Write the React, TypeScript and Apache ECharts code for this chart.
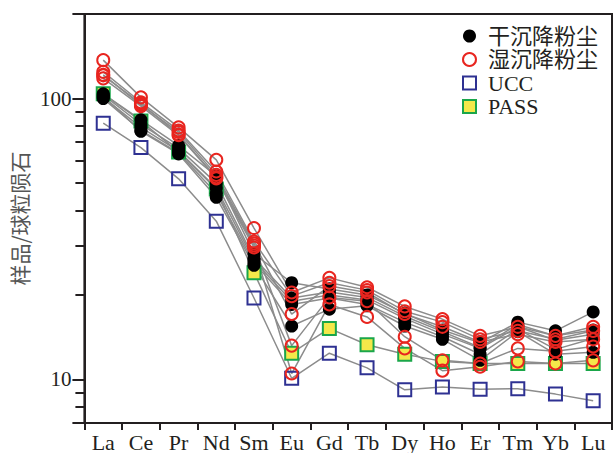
import React, { useEffect, useRef } from "react";
import * as echarts from "echarts";

const categories = ["La", "Ce", "Pr", "Nd", "Sm", "Eu", "Gd", "Tb", "Dy", "Ho", "Er", "Tm", "Yb", "Lu"];

const ucc = [81.7, 66.9, 51.8, 36.6, 19.5, 10.1, 12.4, 11.0, 9.19, 9.4, 9.24, 9.27, 8.87, 8.4];
const pass = [104, 83.2, 64.5, 47.7, 24.0, 12.4, 15.2, 13.3, 12.3, 11.6, 11.4, 11.4, 11.4, 11.4];

const dry1 = [104, 84, 68, 53, 28, 22.1, 21, 20, 17.2, 15, 13.5, 16.0, 14.9, 17.4];
const dry2 = [103, 81, 66.5, 50, 27, 19.5, 20.5, 19.6, 16.8, 14.8, 13.0, 15.7, 14.3, 15];
const dry3 = [101, 79, 65, 48, 26.5, 19.0, 20, 19.2, 16.5, 14.5, 12.9, 15.4, 13.8, 14.5];
const dry4 = [100, 77, 64, 46, 26, 18.5, 19.5, 18.5, 16.0, 14.2, 12.3, 15.1, 12.8, 14];
const dry5 = [102, 76.5, 63.5, 44.5, 25.5, 15.5, 17.8, 18.3, 15.5, 13.9, 11.7, 14.8, 12.3, 12.5];

const wet1 = [137, 101, 79, 60.5, 34.6, 20.4, 23.0, 21.3, 18.2, 16.4, 14.3, 15.4, 14.3, 15.4];
const wet2 = [124.5, 97, 77, 55, 31, 19.8, 22.1, 20.8, 17.5, 16.0, 13.9, 14.9, 13.9, 14.9];
const wet3 = [121.5, 95, 76, 53.5, 30.5, 17.1, 21.5, 20.4, 17.1, 15.4, 13.6, 14.5, 13.6, 13.9];
const wet4 = [121, 96, 74.5, 52.5, 30, 13.2, 19.6, 19.0, 14.2, 11.7, 11.4, 12.9, 12.6, 13.1];
const wet5 = [118, 94, 74, 52, 29.5, 10.5, 18.5, 16.7, 12.9, 10.75, 11.1, 11.6, 11.4, 11.7];

const drySamples = [dry1, dry2, dry3, dry4, dry5];
const wetSamples = [wet1, wet2, wet3, wet4, wet5];

const yMin = 7;
const yMax = 200;
const minorTickValues = [8, 9, 20, 30, 40, 50, 60, 70, 80, 90];

const DRY_NAME = "干沉降粉尘";
const WET_NAME = "湿沉降粉尘";
const UCC_NAME = "UCC";
const PASS_NAME = "PASS";

const INK = "#231f20";
const LINE = "#8c8c8c";
const RED = "#e8251f";
const BLUE = "#2e3192";
const GREEN = "#1aa64a";
const YELLOW = "#f4e84a";
const SERIF = "'Liberation Serif', 'Times New Roman', 'Noto Sans CJK SC', serif";

export default function App() {
  const ref = useRef<HTMLDivElement>(null);

  useEffect(() => {
    if (!ref.current) return;
    const chart = echarts.init(ref.current, undefined, { renderer: "svg" });

    const mk = (name: string, data: number[], symbol: string, size: number, itemStyle: any) => ({
      name,
      type: "line",
      yAxisIndex: 0,
      data,
      symbol,
      symbolSize: size,
      showSymbol: true,
      lineStyle: { color: LINE, width: 1.5 },
      itemStyle,
      emphasis: { disabled: true },
    });

    const series: any[] = [
      mk(UCC_NAME, ucc, "rect", 13, { color: "rgba(0,0,0,0)", borderColor: BLUE, borderWidth: 2 }),
      mk(PASS_NAME, pass, "rect", 13, { color: YELLOW, borderColor: GREEN, borderWidth: 2 }),
      ...drySamples.map((d) => mk(DRY_NAME, d, "circle", 13, { color: "#000", borderWidth: 0 })),
      ...wetSamples.map((d) => mk(WET_NAME, d, "circle", 12, { color: "rgba(0,0,0,0)", borderColor: RED, borderWidth: 2 })),
    ];

    chart.setOption({
      animation: false,
      grid: {
        left: 65,
        right: 2,
        top: 14,
        bottom: 29,
        show: true,
        borderColor: INK,
        borderWidth: 2,
        backgroundColor: "transparent",
      },
      legend: {
        orient: "vertical",
        left: 457,
        top: 20,
        itemWidth: 13,
        itemHeight: 13,
        itemGap: 1.5,
        selectedMode: false,
        textStyle: { fontFamily: SERIF, fontSize: 22, color: INK, padding: [0, 0, 0, 7] },
        data: [
          { name: DRY_NAME, icon: "circle", itemStyle: { color: "#000", borderWidth: 0 } },
          { name: WET_NAME, icon: "circle", itemStyle: { color: "#fff", borderColor: RED, borderWidth: 2 } },
          { name: UCC_NAME, icon: "rect", itemStyle: { color: "#fff", borderColor: BLUE, borderWidth: 2 } },
          { name: PASS_NAME, icon: "rect", itemStyle: { color: YELLOW, borderColor: GREEN, borderWidth: 2 } },
        ],
      },
      xAxis: {
        type: "category",
        data: categories,
        boundaryGap: true,
        axisLine: { lineStyle: { color: INK, width: 2 } },
        axisTick: { show: true, length: 7, inside: false, interval: 0, lineStyle: { color: INK, width: 2 } },
        axisLabel: { interval: 0, margin: 8, fontFamily: SERIF, fontSize: 22, color: INK },
        splitLine: { show: false },
      },
      yAxis: [
        {
          type: "log",
          logBase: 10,
          min: yMin,
          max: yMax,
          name: "样品/球粒陨石",
          nameLocation: "middle",
          nameGap: 36,
          nameRotate: 90,
          nameTextStyle: { fontFamily: "'Noto Sans CJK SC', sans-serif", fontSize: 21, color: "#555" },
          axisLine: { show: true, lineStyle: { color: INK, width: 2 } },
          axisTick: { show: true, length: 12, inside: false, lineStyle: { color: INK, width: 2 } },
          axisLabel: {
            margin: 13,
            fontFamily: SERIF,
            fontSize: 21,
            color: INK,
            formatter: (v: number) => {
              if (Math.abs(v - 10) < 0.01) return "10";
              if (Math.abs(v - 100) < 0.1) return "100";
              return "";
            },
          },
          splitLine: { show: false },
          minorTick: { show: false },
        },
        {
          // exponent-space twin of the log axis, used only to draw minor ticks
          type: "value",
          min: Math.log10(yMin),
          max: Math.log10(yMax),
          position: "left",
          axisLine: { show: false },
          axisLabel: { show: false },
          axisTick: {
            show: true,
            length: 9,
            inside: false,
            customValues: minorTickValues.map((v) => Math.log10(v)),
            lineStyle: { color: INK, width: 2 },
          },
          splitLine: { show: false },
        },
      ],
      series,
    });

    return () => chart.dispose();
  }, []);

  return (
    <div
      ref={ref}
      style={{ position: "fixed", left: 0, top: 0, width: 614, height: 453, background: "#fff" }}
    />
  );
}
